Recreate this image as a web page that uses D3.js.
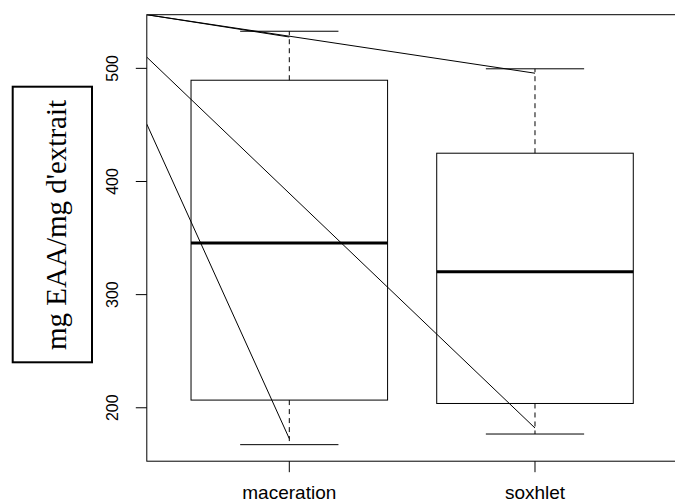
<!DOCTYPE html>
<html>
<head>
<meta charset="utf-8">
<script src="https://cdn.jsdelivr.net/npm/d3@7"></script>
<style>
  body { margin: 0; background: #fff; }
  svg { display: block; }
  text { fill: #000; }
</style>
</head>
<body>
<div id="chart"></div>
<script>
// box statistics
var categories = ["maceration", "soxhlet"];
var mins    = [167.4, 176.8];
var q1s     = [206.8, 203.8];
var medians = [345.7, 320.3];
var q3s     = [489.5, 425.0];
var maxs    = [532.8, 499.6];
var yTicks  = [200, 300, 400, 500];

// straight lines drawn over the plot: start on the left edge, end on a category
var segStart  = [547.4, 547.4, 509.9, 450.7];
var segEndCat = ["maceration", "soxhlet", "soxhlet", "maceration"];
var segEnd    = [527.7, 495.7, 182.1, 172.7];

var yLabel = "mg EAA/mg d'extrait";

var width = 675, height = 504;
var plot = { left: 146.8, right: 677.5, top: 14.7, bottom: 461.2 };

var svg = d3.select("#chart").append("svg")
    .attr("width", width)
    .attr("height", height);

// R style ranges: groups at 1..n, xlim 0.5..n+0.5 expanded by 4%
var n = categories.length;
var xlo = 0.5, xhi = n + 0.5;
var xpad = (xhi - xlo) * 0.04;
var x = d3.scaleLinear()
    .domain([xlo - xpad, xhi + xpad])
    .range([plot.left, plot.right]);

var lo = d3.min(mins), hi = d3.max(maxs);
var ypad = (hi - lo) * 0.04;
var y = d3.scaleLinear()
    .domain([lo - ypad, hi + ypad])
    .range([plot.bottom, plot.top]);

var pos = function(c) { return categories.indexOf(c) + 1; };

svg.append("clipPath").attr("id", "clip")
  .append("rect")
    .attr("x", plot.left).attr("y", plot.top)
    .attr("width", plot.right - plot.left)
    .attr("height", plot.bottom - plot.top);

var g = svg.append("g").attr("clip-path", "url(#clip)");

var boxW = 0.8, capW = 0.4;
var boxes = g.selectAll("g.box")
    .data(categories)
  .enter().append("g")
    .attr("class", "box");

// whiskers
boxes.append("line")
    .attr("x1", function(d, i) { return x(i + 1); })
    .attr("x2", function(d, i) { return x(i + 1); })
    .attr("y1", function(d, i) { return y(q3s[i]); })
    .attr("y2", function(d, i) { return y(maxs[i]); })
    .attr("stroke", "#000").attr("stroke-dasharray", "5,4");
boxes.append("line")
    .attr("x1", function(d, i) { return x(i + 1); })
    .attr("x2", function(d, i) { return x(i + 1); })
    .attr("y1", function(d, i) { return y(q1s[i]); })
    .attr("y2", function(d, i) { return y(mins[i]); })
    .attr("stroke", "#000").attr("stroke-dasharray", "5,4");

// staples
[maxs, mins].forEach(function(arr) {
    boxes.append("line")
        .attr("x1", function(d, i) { return x(i + 1 - capW / 2); })
        .attr("x2", function(d, i) { return x(i + 1 + capW / 2); })
        .attr("y1", function(d, i) { return y(arr[i]); })
        .attr("y2", function(d, i) { return y(arr[i]); })
        .attr("stroke", "#000");
});

// boxes
boxes.append("rect")
    .attr("x", function(d, i) { return x(i + 1 - boxW / 2); })
    .attr("width", function() { return x(1 + boxW / 2) - x(1 - boxW / 2); })
    .attr("y", function(d, i) { return y(q3s[i]); })
    .attr("height", function(d, i) { return y(q1s[i]) - y(q3s[i]); })
    .attr("fill", "none")
    .attr("stroke", "#000");

// medians
boxes.append("line")
    .attr("x1", function(d, i) { return x(i + 1 - boxW / 2); })
    .attr("x2", function(d, i) { return x(i + 1 + boxW / 2); })
    .attr("y1", function(d, i) { return y(medians[i]); })
    .attr("y2", function(d, i) { return y(medians[i]); })
    .attr("stroke", "#000")
    .attr("stroke-width", 3);

// the extra straight lines
g.selectAll("line.seg")
    .data(segStart)
  .enter().append("line")
    .attr("class", "seg")
    .attr("x1", x.domain()[0])
    .attr("x1", function() { return x(x.domain()[0]); })
    .attr("y1", function(d) { return y(d); })
    .attr("x2", function(d, i) { return x(pos(segEndCat[i])); })
    .attr("y2", function(d, i) { return y(segEnd[i]); })
    .attr("stroke", "#000");

// frame
svg.append("rect")
    .attr("x", plot.left).attr("y", plot.top)
    .attr("width", plot.right - plot.left)
    .attr("height", plot.bottom - plot.top)
    .attr("fill", "none").attr("stroke", "#000");

// y axis
var yAxis = svg.append("g").attr("class", "y-axis");
yAxis.selectAll("line")
    .data(yTicks)
  .enter().append("line")
    .attr("x1", plot.left - 11).attr("x2", plot.left)
    .attr("y1", function(d) { return y(d); })
    .attr("y2", function(d) { return y(d); })
    .attr("stroke", "#000");
yAxis.selectAll("text")
    .data(yTicks)
  .enter().append("text")
    .attr("transform", function(d) { return "translate(118," + y(d) + ") rotate(-90)"; })
    .attr("text-anchor", "middle")
    .style("font-family", "'Liberation Sans', Arial, sans-serif")
    .style("font-size", "16px")
    .text(function(d) { return d; });

// x axis
var xAxis = svg.append("g").attr("class", "x-axis");
xAxis.selectAll("line")
    .data(categories)
  .enter().append("line")
    .attr("x1", function(d) { return x(pos(d)); })
    .attr("x2", function(d) { return x(pos(d)); })
    .attr("y1", plot.bottom).attr("y2", plot.bottom + 11)
    .attr("stroke", "#000");
xAxis.selectAll("text")
    .data(categories)
  .enter().append("text")
    .attr("x", function(d) { return x(pos(d)); })
    .attr("y", 499)
    .attr("text-anchor", "middle")
    .style("font-family", "'Liberation Sans', Arial, sans-serif")
    .style("font-size", "19px")
    .text(function(d) { return d; });

// boxed y label
svg.append("rect")
    .attr("x", 12.7).attr("y", 86.7)
    .attr("width", 79.3).attr("height", 275.6)
    .attr("fill", "none")
    .attr("stroke", "#000")
    .attr("stroke-width", 2);
svg.append("text")
    .attr("transform", "translate(66,225) rotate(-90)")
    .attr("text-anchor", "middle")
    .style("font-family", "'Liberation Serif', 'Times New Roman', serif")
    .style("font-size", "29px")
    .text(yLabel);
</script>
</body>
</html>
